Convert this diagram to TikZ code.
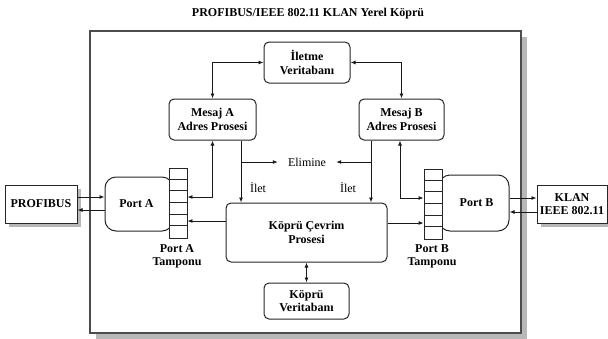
\documentclass[tikz,border=0pt]{standalone}
\usepackage{fontspec}
\setmainfont{Liberation Serif}
\usetikzlibrary{arrows.meta}
\begin{document}
\begin{tikzpicture}[x=1pt,y=-1pt,
  txt/.style={font=\fontsize{12}{13.5}\selectfont, align=center, inner sep=0pt},
  btxt/.style={txt, font=\fontsize{12}{13.5}\selectfont\bfseries},
  box/.style={btxt, draw=black!85, line width=1pt, rounded corners=5pt, fill=white},
  portbox/.style={box, rounded corners=11pt},
  sqbox/.style={btxt, draw=black!85, line width=1pt, fill=white},
  shadowc/.style={fill=black!28},
  buf/.style={draw=black!85, line width=0.9pt, fill=white, minimum width=18pt, minimum height=70pt, inner sep=0pt},
  conn/.style={line width=0.9pt, draw=black!90},
  arr/.style={conn, -{Latex[length=5pt,width=4pt]}},
  darr/.style={conn, {Latex[length=5pt,width=4pt]}-{Latex[length=5pt,width=4pt]}}
]
\useasboundingbox (0,0) rectangle (608,338);
\fill[white] (0,0) rectangle (608,338);

% title
\node[btxt] (title) at (308,14) {PROFIBUS/IEEE 802.11 KLAN Yerel Köprü};

% frame with shadow
\fill[shadowc] (96,37) rectangle (527,339);
\node[draw=black!70, line width=1.2pt, fill=white, minimum width=431pt, minimum height=302pt, inner sep=0pt] (frame) at (305.5,182) {};

% outer boxes with shadows
\fill[shadowc] (9,189) rectangle (81,227);
\node[sqbox, minimum width=72pt, minimum height=38pt] (prof) at (41,204) {PROFIBUS};
\fill[shadowc] (541,189) rectangle (611,227);
\node[sqbox, minimum width=70pt, minimum height=38pt] (klan) at (572,204) {KLAN\\IEEE 802.11};

% inner boxes
\node[box, minimum width=86pt, minimum height=41pt] (ilet) at (307,62.5) {İletme\\Veritabanı};
\node[box, minimum width=87pt, minimum height=41pt] (mesA) at (212.5,119.5) {Mesaj A\\Adres Prosesi};
\node[box, minimum width=85pt, minimum height=41pt] (mesB) at (401.5,119.5) {Mesaj B\\Adres Prosesi};
\node[box, minimum width=161pt, minimum height=59pt] (kc) at (306.5,232.5) {Köprü Çevrim\\Prosesi};
\node[box, minimum width=85pt, minimum height=36pt] (kv) at (306.5,301) {Köprü\\Veritabanı};

% ports
\node[portbox, minimum width=68pt, minimum height=54pt] (portA) at (139,204) {\hspace*{-5pt}Port A};
\node[portbox, minimum width=70pt, minimum height=56pt] (portB) at (474,203) {\hspace*{5pt}Port B};

% buffers
\node[buf] (bufA) at (178,203) {};
\node[buf] (bufB) at (433,204) {};
\foreach \i in {1,...,5}{
  \draw[line width=0.9pt, draw=black!85] ([yshift=-\i*70/6 pt]bufA.north west) -- ([yshift=-\i*70/6 pt]bufA.north east);
  \draw[line width=0.9pt, draw=black!85] ([yshift=-\i*70/6 pt]bufB.north west) -- ([yshift=-\i*70/6 pt]bufB.north east);
}

% labels
\node[btxt] (tA) at (177,256.5) {Port A\\Tamponu};
\node[btxt] (tB) at (432,256.5) {Port B\\Tamponu};
\node[txt, inner xsep=10pt] (elim) at (307,162) {Elimine};
\node[txt] (iletA) at (258,188) {İlet};
\node[txt] (iletB) at (348,188) {İlet};

% helper coordinates
\coordinate (xA2) at (241,0);
\coordinate (xB1) at (371,0);
\coordinate (xB2) at (400,0);
\coordinate (rA) at (0,197);
\coordinate (rB) at (0,198);
\coordinate (rkA) at (0,221);
\coordinate (rkB) at (0,223);
\coordinate (rp1) at (0,197);
\coordinate (rp2) at (0,210);
\coordinate (rk1) at (0,198);
\coordinate (rk2) at (0,212);

% connectors
\draw[darr] (ilet.west) -| (mesA.north);
\draw[darr] (ilet.east) -| (mesB.north);
\draw[darr] (mesA.south) |- (bufA.east |- rA);
\draw[darr] (mesB.south -| xB2) |- (bufB.west |- rB);
\draw[arr] (mesA.south -| xA2) -- (kc.north -| xA2);
\draw[arr] (mesB.south -| xB1) -- (kc.north -| xB1);
\draw[arr] (elim.west -| xA2) -- (elim.west);
\draw[arr] (elim.east -| xB1) -- (elim.east);
\draw[arr] (kc.west |- rkA) -- (bufA.east |- rkA);
\draw[arr] (kc.east |- rkB) -- (bufB.west |- rkB);
\draw[darr] (kc.south) -- (kv.north);
\draw[arr] (prof.east |- rp1) -- (portA.west |- rp1);
\draw[arr] (portA.west |- rp2) -- (prof.east |- rp2);
\draw[arr] (portB.east |- rk1) -- (klan.west |- rk1);
\draw[arr] (klan.west |- rk2) -- (portB.east |- rk2);
\end{tikzpicture}
\end{document}
